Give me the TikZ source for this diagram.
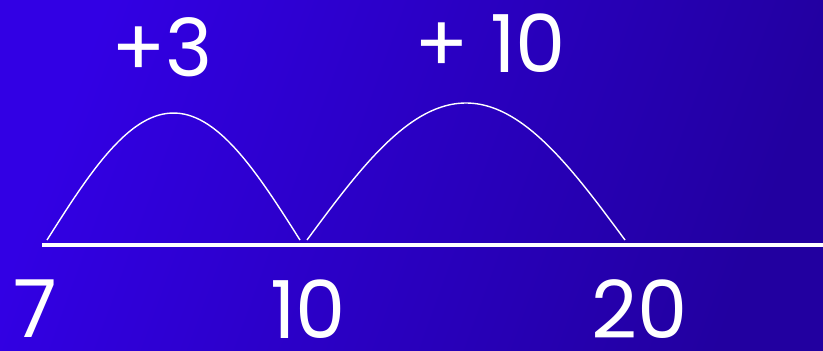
\documentclass[tikz,border=0pt]{standalone}
\usepackage{fontspec}
\setmainfont{Poppins}
\begin{document}
\begin{tikzpicture}[x=1pt,y=-1pt,
  lbl/.style={text=white,inner sep=0pt,font=\fontsize{80}{90}\selectfont},
  hop/.style={draw=white,line width=1.4pt},
  axisline/.style={draw=white,line width=4.5pt}]
\shade[left color={rgb,255:red,50;green,0;blue,228},right color={rgb,255:red,34;green,0;blue,160},shading angle=70] (0,0) rectangle (823,351);
\useasboundingbox (0,0) rectangle (823,351);
\coordinate (a0) at (42,245);
\coordinate (a1) at (823,245);
\draw[axisline] (a0) -- (a1);
\draw[hop] plot[domain=0:180,samples=60,smooth] ({47+1.40556*\x},{240-127*sin(\x)});
\draw[hop] plot[domain=0:180,samples=60,smooth] ({307+1.76667*\x},{240-137*sin(\x)});
\node[lbl] (p3) at (162,47) {+3};
\node[lbl] (p10) at (490,43) {+ 10};
\node[lbl] (n7) at (35,309) {7};
\node[lbl] (n10) at (308,309) {10};
\node[lbl] (n20) at (640,309) {20};
\end{tikzpicture}
\end{document}
